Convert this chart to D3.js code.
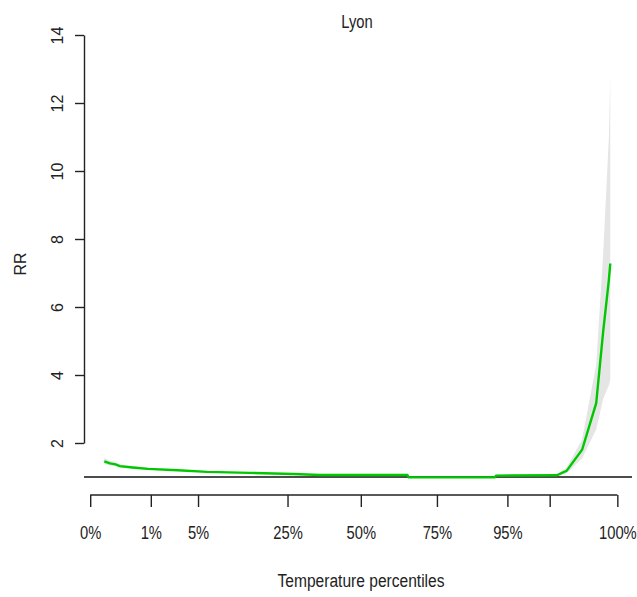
<!DOCTYPE html>
<html>
<head>
<meta charset="utf-8">
<script src="https://cdn.jsdelivr.net/npm/d3@7"></script>
<style>
  body { margin: 0; background: #fff; }
  svg { display: block; }
  text { font-family: "Liberation Sans", Arial, sans-serif; }
</style>
</head>
<body>
<div id="chart"></div>
<script>
// data (temperature in °C, relative risk)
const temps  = [-6.0, -5.6, -5.2, -4.9, -4.0, -2.9, -0.8, 1.3, 4.3, 7.4, 9.3, 15.5, 15.6, 21.7, 21.8, 26.1, 26.8, 27.9, 28.9, 29.4, 29.8, 29.9];
const rr     = [1.46, 1.40, 1.37, 1.32, 1.28, 1.24, 1.20, 1.15, 1.12, 1.09, 1.06, 1.06, 0.99, 0.99, 1.04, 1.05, 1.18, 1.80, 3.17, 5.30, 6.80, 7.28];
const rrLow  = [1.38, 1.34, 1.32, 1.28, 1.25, 1.21, 1.18, 1.13, 1.10, 1.08, 1.05, 1.05, 0.98, 0.98, 1.03, 1.02, 1.10, 1.55, 2.40, 3.30, 3.70, 3.85];
const rrHigh = [1.56, 1.48, 1.43, 1.37, 1.32, 1.27, 1.22, 1.17, 1.14, 1.10, 1.07, 1.07, 1.00, 1.00, 1.05, 1.08, 1.28, 2.10, 4.30, 7.60, 11.0, 12.8];

// percentile ticks (temperature where each percentile sits)
const pctTemps  = [-7.0, -2.7, 0.65, 7.0, 12.2, 17.6, 22.6, 25.6, 30.4];
const pctLabels = ["0%", "1%", "5%", "25%", "50%", "75%", "95%", "", "100%"];
const yTicks = [2, 4, 6, 8, 10, 12, 14];

const width = 637, height = 597;
const xDomain = [-6, 30];
const pad = (xDomain[1] - xDomain[0]) * 0.04;
const narrow = "scale(0.82,1)";

const svg = d3.select("#chart").append("svg")
  .attr("width", width)
  .attr("height", height);

const x = d3.scaleLinear().domain(xDomain).range([104.3, 611.7]);
const y = d3.scaleLinear().domain([2, 14]).range([443, 35]);

const data = temps.map((t, i) => ({t, rr: rr[i], lo: rrLow[i], hi: rrHigh[i]}));

// confidence band
svg.append("path")
  .datum(data)
  .attr("fill", "#e5e5e5")
  .attr("d", d3.area().x(d => x(d.t)).y0(d => y(d.lo)).y1(d => y(d.hi)));

// reference line at RR = 1
svg.append("line")
  .attr("x1", x(xDomain[0] - pad)).attr("x2", x(xDomain[1] + pad))
  .attr("y1", y(1)).attr("y2", y(1))
  .attr("stroke", "#111").attr("stroke-width", 1.6);

// fitted curve
svg.append("path")
  .datum(data)
  .attr("fill", "none")
  .attr("stroke", "#00c800")
  .attr("stroke-width", 2.4)
  .attr("d", d3.line().x(d => x(d.t)).y(d => y(d.rr)));

// y axis
const yAxis = svg.append("g")
  .attr("transform", `translate(${x(xDomain[0] - pad)},0)`)
  .call(d3.axisLeft(y).tickValues(yTicks).tickSize(9).tickSizeOuter(0));
yAxis.select(".domain").attr("stroke", "#222").attr("stroke-width", 1.4);
yAxis.selectAll(".tick line").attr("stroke", "#222").attr("stroke-width", 1.4);
yAxis.selectAll(".tick text")
  .attr("font-size", 16)
  .attr("fill", "#222")
  .attr("text-anchor", "middle")
  .attr("x", null).attr("y", null)
  .attr("dy", "0.35em")
  .attr("transform", "translate(-27,0) rotate(-90)");

// x axis (percentiles), line only between first and last tick
const xAxis = svg.append("g")
  .attr("transform", "translate(0,495)")
  .call(d3.axisBottom(x).tickValues(pctTemps).tickFormat((d, i) => pctLabels[i]).tickSize(12).tickPadding(19).tickSizeOuter(0));
xAxis.select(".domain").remove();
xAxis.append("line")
  .attr("x1", x(pctTemps[0])).attr("x2", x(pctTemps[pctTemps.length - 1]))
  .attr("stroke", "#222").attr("stroke-width", 1.4);
xAxis.selectAll(".tick line").attr("stroke", "#222").attr("stroke-width", 1.4);
xAxis.selectAll(".tick text")
  .attr("font-size", 18)
  .attr("fill", "#222")
  .attr("transform", narrow);

// title and axis labels
svg.append("text")
  .attr("transform", `translate(357,28) ${narrow}`)
  .attr("text-anchor", "middle")
  .attr("font-size", 18)
  .attr("fill", "#222")
  .text("Lyon");

svg.append("text")
  .attr("transform", `translate(361,587) ${narrow}`)
  .attr("text-anchor", "middle")
  .attr("font-size", 19)
  .attr("fill", "#222")
  .text("Temperature percentiles");

svg.append("text")
  .attr("transform", "translate(26,264) rotate(-90)")
  .attr("text-anchor", "middle")
  .attr("font-size", 16)
  .attr("fill", "#222")
  .text("RR");
</script>
</body>
</html>
